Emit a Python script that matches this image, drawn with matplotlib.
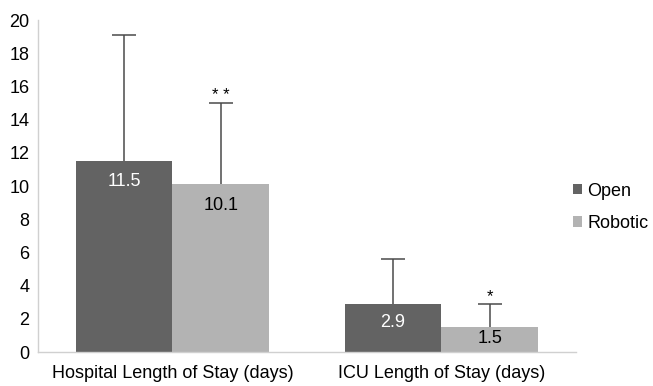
import numpy as np
import matplotlib
matplotlib.use("Agg")
from matplotlib import pyplot as plt

plt.rcParams['font.family'] = ['Liberation Sans', 'DejaVu Sans']

categories = ['Hospital Length of Stay (days)', 'ICU Length of Stay (days)']
open_vals = [11.5, 2.9]
robotic_vals = [10.1, 1.5]
open_err = [7.6, 2.7]
robotic_err = [4.9, 1.4]
robotic_marks = ['* *', '*']

fig = plt.figure(figsize=(6.53, 3.86), dpi=100)
ax = fig.add_axes([0.058, 0.088, 0.824, 0.86])

x = np.arange(len(categories))
w = 0.36
err_kw = dict(ecolor='#4a4a4a', elinewidth=1.1, capsize=8.5, capthick=1.1)

b1 = ax.bar(x - w / 2, open_vals, w, color='#636363', label='Open',
            yerr=[np.zeros(2), open_err], error_kw=err_kw)
b2 = ax.bar(x + w / 2, robotic_vals, w, color='#b3b3b3', label='Robotic',
            yerr=[np.zeros(2), robotic_err], error_kw=err_kw)

# убираем нижние засечки (ошибка только вверх)
for b in (b1, b2):
    b.errorbar.lines[1][0].set_visible(False)

# подписи значений внутри столбцов
for xi, v in zip(x - w / 2, open_vals):
    ax.text(xi, max(v - 1.25, v * 0.62), f'{v}', ha='center', va='center',
            color='white', fontsize=13)
for xi, v in zip(x + w / 2, robotic_vals):
    ax.text(xi, max(v - 1.25, v * 0.55), f'{v}', ha='center', va='center',
            color='black', fontsize=13)

# звездочки значимости
for xi, v, e, m in zip(x + w / 2, robotic_vals, robotic_err, robotic_marks):
    ax.annotate(m, (xi, v + e), xytext=(0, 0), textcoords='offset points',
                ha='center', va='bottom', fontsize=12)

ax.set_xlim(-0.5, 1.5)
ax.set_ylim(0, 20)
ax.set_yticks(np.arange(0, 21, 2))
ax.set_xticks(x)
ax.set_xticklabels(categories)
ax.tick_params(axis='both', length=0, labelsize=13)
ax.tick_params(axis='y', pad=6)
ax.tick_params(axis='x', pad=9)

for s in ['top', 'right']:
    ax.spines[s].set_visible(False)
for s in ['left', 'bottom']:
    ax.spines[s].set_color('#d0d0d0')
    ax.spines[s].set_linewidth(1.0)

fig.legend(handles=[b1, b2], labels=['Open', 'Robotic'], loc='center left',
           bbox_to_anchor=(0.877, 0.463), frameon=False, fontsize=13,
           handlelength=0.5, handleheight=0.5, handletextpad=0.3,
           labelspacing=0.85, borderpad=0, borderaxespad=0)

fig.savefig('out.png', dpi=100)
